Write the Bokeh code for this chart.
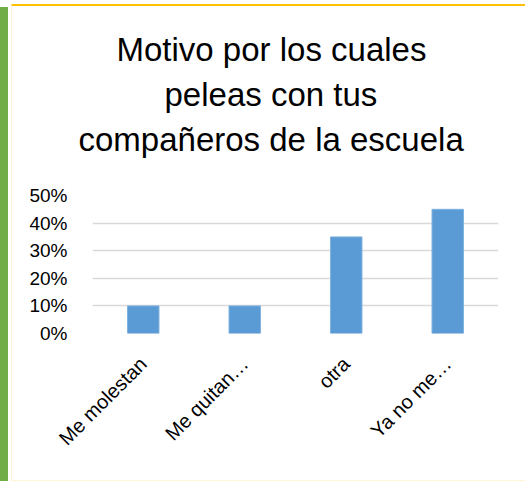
import math
from bokeh.plotting import figure
from bokeh.models import (FactorRange, Range1d, NumeralTickFormatter, FixedTicker,
                          Title, ColumnDataSource, InlineStyleSheet, LinearAxis)
from bokeh.embed import file_html
from bokeh.resources import INLINE

categories = ["Me molestan", "Me quitan…", "otra", "Ya no me…"]
values = [0.10, 0.10, 0.35, 0.45]
y_ticks = [0, 0.1, 0.2, 0.3, 0.4, 0.5]
title_lines = ["Motivo por los cuales", "peleas con tus", "compañeros de la escuela"]

FONT = "Liberation Sans"

css = """
:host::before { content: ""; position: absolute; left: 0px; top: 7px; width: 8px;
  height: 474px; background: #70AD47; z-index: 10; }
:host::after { content: ""; position: absolute; left: 11px; top: 4px; width: 514px;
  height: 474px; border-top: 2.5px solid #FFC000; border-left: 1px solid #FFF4D6;
  border-bottom: 1.5px solid #FFF4D6; z-index: 10; pointer-events: none; }
"""

p = figure(width=525, height=481, output_backend="svg", toolbar_location=None,
           x_range=FactorRange(*categories), y_range=Range1d(0, 0.5),
           min_border_left=92, min_border_right=27, min_border_top=195,
           min_border_bottom=148)
p.styles = {"position": "absolute", "left": "0px", "top": "0px"}
p.stylesheets = [InlineStyleSheet(css=css)]
p.outline_line_color = None
p.background_fill_color = "white"
p.border_fill_color = "white"

src = ColumnDataSource(dict(cat=categories, val=values))
p.vbar(x="cat", top="val", width=0.31, source=src, fill_color="#5B9BD5",
       line_color="#7FB2E0", line_width=1)

# empty spacer between the plot area and the title (a white tick, no label)
spacer = LinearAxis(ticker=FixedTicker(ticks=[0]), axis_line_color=None,
                    major_tick_out=35, major_tick_in=0, minor_tick_out=0,
                    minor_tick_in=0, major_label_standoff=0,
                    major_label_overrides={0: ""},
                    major_tick_line_color="white", minor_tick_line_color=None)
p.add_layout(spacer, "above")

# title: one Title per line, closest to the frame first
offsets = [24, 72, -14]
for line, off in zip(reversed(title_lines), reversed(offsets)):
    t = Title(text=line, align="left", offset=off, standoff=6, text_font=FONT,
              text_font_size="33px", text_font_style="normal", text_color="black")
    p.add_layout(t, "above")

# axes
p.yaxis.ticker = FixedTicker(ticks=y_ticks)
p.yaxis.formatter = NumeralTickFormatter(format="0%")
p.yaxis.axis_line_color = None
p.yaxis.major_tick_line_color = None
p.yaxis.minor_tick_line_color = None
p.yaxis.major_label_standoff = 19
p.yaxis.major_label_text_font = FONT
p.yaxis.major_label_text_font_size = "19px"
p.yaxis.major_label_text_color = "black"

p.below[0].axis_line_color = None
p.below[0].major_tick_line_color = None
p.below[0].major_label_orientation = math.pi / 4
p.below[0].major_label_standoff = 21
p.below[0].major_label_text_font = FONT
p.below[0].major_label_text_font_size = "20px"
p.below[0].major_label_text_color = "black"

p.xgrid.grid_line_color = None
p.ygrid.ticker = FixedTicker(ticks=y_ticks)
p.ygrid.grid_line_color = "#D9D9D9"
p.ygrid.grid_line_width = 1.5

open("out.html", "w").write(file_html(p, INLINE))
